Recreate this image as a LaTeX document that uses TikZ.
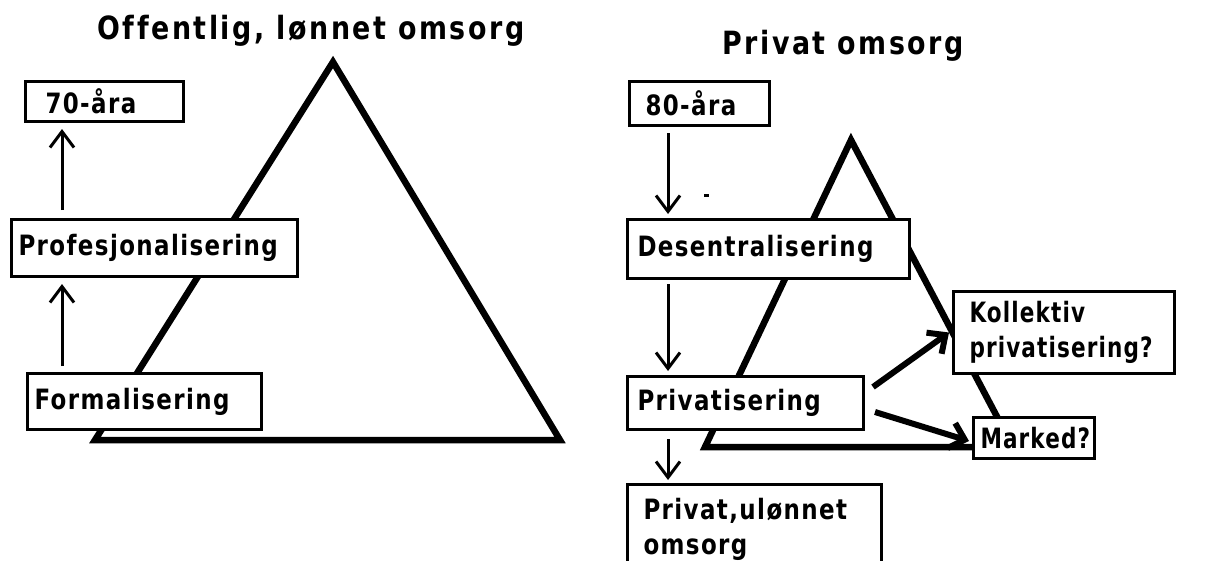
\documentclass[tikz,border=0pt]{standalone}
\usepackage{fontspec}
\setmainfont{DejaVu Sans}[FakeStretch=0.82,LetterSpace=5,Ligatures=NoCommon]
\newfontfamily\titlefont{DejaVu Sans}[FakeStretch=0.84,LetterSpace=8,Ligatures=NoCommon]
\newfontfamily\narrowfont{DejaVu Sans}[FakeStretch=0.77,LetterSpace=4,Ligatures=NoCommon]
\usetikzlibrary{arrows.meta,calc}
\begin{document}
\begin{tikzpicture}[x=1pt,y=-1pt,
  tri/.style={line width=6.5pt,line join=miter},
  bx/.style={draw,fill=white,line width=3pt,rectangle,anchor=north west,inner ysep=0pt,
    font=\fontsize{28}{35}\selectfont\bfseries,align=left},
  nbx/.style={bx,font=\narrowfont\fontsize{28}{35}\selectfont\bfseries},
  ttl/.style={font=\titlefont\fontsize{32}{36}\selectfont\bfseries},
  arr/.style={line width=3pt,-{Straight Barb[length=16pt,width=24pt]}},
  thick arr/.style={line width=6pt,-{Straight Barb[length=14pt,width=26pt]}}]
\useasboundingbox (0,0) rectangle (1205,560);
% titles
\node[ttl] (t1) at (311,31) {Offentlig, lønnet omsorg};
\node[ttl] (t2) at (843,46) {Privat omsorg};
% triangles
\draw[tri] (333,62) -- (95,440) -- (560,440) -- cycle;
\draw[tri] (851,140) -- (705,447) -- (1013,447) -- cycle;
\fill (704,194) rectangle (709,197);
% boxes left
\node[bx,inner xsep=20pt,text width=118pt,minimum height=40pt] (a70) at (24,80) {70-åra};
\node[bx,inner xsep=7pt,text width=272pt,minimum height=57pt] (prof) at (10,218) {Profesjonalisering};
\node[bx,inner xsep=7pt,text width=220pt,minimum height=56pt] (form) at (26,372) {Formalisering};
% boxes right
\node[bx,inner xsep=16pt,text width=108pt,minimum height=44pt] (a80) at (628,80) {80-åra};
\node[bx,inner xsep=10pt,text width=262pt,minimum height=59pt] (desen) at (626,218) {Desentralisering};
\node[bx,inner xsep=10pt,text width=216pt,minimum height=53pt] (priv) at (626,375) {Privatisering};
\node[bx,inner xsep=16pt,text width=222pt,minimum height=90pt] (ulon) at (626,483) {Privat,ulønnet\\omsorg};
\node[nbx,inner xsep=16pt,text width=189pt,minimum height=82pt] (koll) at (952,290) {Kollektiv\\privatisering?};
\node[nbx,inner xsep=7pt,text width=107pt,minimum height=41pt] (mark) at (972,416) {Marked?};
% arrows
\draw[arr] ($(prof.north west)+(52,-8)$) -- ($(a70.south west)+(38,6)$);
\draw[arr] ($(form.north west)+(36,-6)$) -- ($(prof.south west)+(52,6)$);
\draw[arr] ($(a80.south west)+(40,6)$) -- ($(desen.north west)+(42,-4)$);
\draw[arr] ($(desen.south west)+(42,4)$) -- ($(priv.north west)+(42,-4)$);
\draw[arr] ($(priv.south west)+(42,8)$) -- ($(ulon.north west)+(42,-3)$);
\draw[thick arr] ($(priv.east)+(8,-16)$) -- ($(koll.west)+(-3,0)$);
\draw[thick arr] ($(priv.east)+(10,9)$) -- ($(mark.west)+(-3,3)$);
\end{tikzpicture}
\end{document}
